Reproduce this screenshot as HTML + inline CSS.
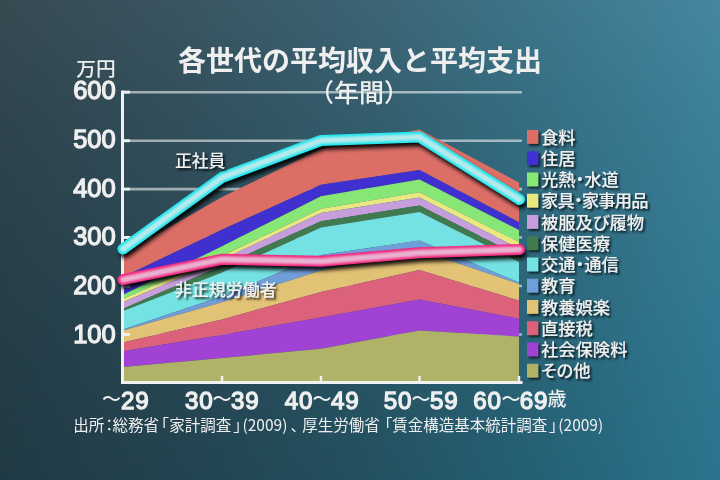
<!DOCTYPE html>
<html><head><meta charset="utf-8"><style>
html,body{margin:0;padding:0;}
body{width:720px;height:480px;overflow:hidden;position:relative;background:#23505f;}
svg{position:absolute;left:0;top:0;}
text{fill:#efefef;}
.cjk{font-family:"Liberation Sans","Noto Sans CJK JP",sans-serif;}
.jp{font-family:"Noto Sans CJK JP",sans-serif;}
.num{font-family:"Liberation Sans",Arial,sans-serif;font-weight:normal;stroke:#efefef;stroke-width:1.3px;}
</style></head><body>
<svg width="720" height="480" viewBox="0 0 720 480">
<defs>
<linearGradient id="gb" x1="0" y1="0" x2="720" y2="0" gradientUnits="userSpaceOnUse"><stop offset="0" stop-color="#203a44"/><stop offset=".25" stop-color="#234350"/><stop offset=".5" stop-color="#23505f"/><stop offset=".75" stop-color="#256175"/><stop offset="1" stop-color="#2a758e"/></linearGradient>
<linearGradient id="gt" x1="0" y1="0" x2="720" y2="0" gradientUnits="userSpaceOnUse"><stop offset="0" stop-color="#374a52"/><stop offset=".25" stop-color="#3a5561"/><stop offset=".5" stop-color="#3c6373"/><stop offset=".75" stop-color="#3e758a"/><stop offset="1" stop-color="#4687a0"/></linearGradient>
<linearGradient id="gm" x1="0" y1="0" x2="0" y2="480" gradientUnits="userSpaceOnUse"><stop offset="0" stop-color="#fff"/><stop offset=".25" stop-color="#fff" stop-opacity=".65"/><stop offset=".5" stop-color="#fff" stop-opacity=".4"/><stop offset=".75" stop-color="#fff" stop-opacity=".17"/><stop offset="1" stop-color="#fff" stop-opacity="0"/></linearGradient>
<mask id="mk" maskUnits="userSpaceOnUse" x="0" y="0" width="720" height="480"><rect width="720" height="480" fill="url(#gm)"/></mask>
<filter id="lsh" x="-10%" y="-30%" width="130%" height="180%">
 <feGaussianBlur in="SourceAlpha" stdDeviation="2"/>
 <feOffset dx="1.5" dy="4.2" result="b"/>
 <feFlood flood-color="#000" flood-opacity="0.95"/>
 <feComposite in2="b" operator="in"/>
</filter>
<filter id="soft" x="-10%" y="-30%" width="120%" height="160%"><feGaussianBlur stdDeviation="1.1"/></filter>
<filter id="ts" x="-10%" y="-30%" width="130%" height="170%">
 <feGaussianBlur in="SourceAlpha" stdDeviation="1"/>
 <feOffset dx="1.5" dy="1.5" result="b"/>
 <feFlood flood-color="#000" flood-opacity="0.8"/>
 <feComposite in2="b" operator="in" result="s"/>
 <feMerge><feMergeNode in="s"/><feMergeNode in="SourceGraphic"/></feMerge>
</filter>
<filter id="sq" x="-30%" y="-30%" width="180%" height="180%">
 <feGaussianBlur in="SourceAlpha" stdDeviation="1"/>
 <feOffset dx="2" dy="2" result="b"/>
 <feFlood flood-color="#000" flood-opacity="0.7"/>
 <feComposite in2="b" operator="in" result="s"/>
 <feMerge><feMergeNode in="s"/><feMergeNode in="SourceGraphic"/></feMerge>
</filter>
</defs>
<rect width="720" height="480" fill="url(#gb)"/>
<rect width="720" height="480" fill="url(#gt)" mask="url(#mk)"/>
<g stroke="#fff" stroke-opacity="0.55" stroke-width="2.6"><line x1="130" y1="92.2" x2="522" y2="92.2"/><line x1="130" y1="140.7" x2="522" y2="140.7"/><line x1="130" y1="189.1" x2="522" y2="189.1"/><line x1="130" y1="237.5" x2="522" y2="237.5"/><line x1="130" y1="286" x2="522" y2="286"/><line x1="130" y1="334.5" x2="522" y2="334.5"/></g>
<text x="309" y="101.5" class="cjk" style="font-weight:500;font-size:25px">（年間）</text>
<text x="177.9" y="71" class="cjk" style="font-weight:bold;font-size:28px">各世代の平均収入と平均支出</text>
<text x="76.3" y="75.5" class="cjk" style="font-weight:500;font-size:19.7px">万円</text>
<g><polygon points="123,253.8 222,197 321,149 419.5,129.5 519,182.5 519,222.3 419.5,170 321,184.75 222,229.75 123,277" fill="#dc6e66"/><polygon points="123,277 222,229.75 321,184.75 419.5,170 519,222.3 519,230 419.5,179.4 321,196.25 222,246.25 123,294.75" fill="#4030d0"/><polygon points="123,294.75 222,246.25 321,196.25 419.5,179.4 519,230 519,242 419.5,192.25 321,208.75 222,256 123,298.75" fill="#86e676"/><polygon points="123,298.75 222,256 321,208.75 419.5,192.25 519,242 519,248.5 419.5,197.5 321,213.1 222,259.5 123,302.25" fill="#e8e880"/><polygon points="123,302.25 222,259.5 321,213.1 419.5,197.5 519,248.5 519,255.8 419.5,205.6 321,221.25 222,265.7 123,308.75" fill="#c69edc"/><polygon points="123,308.75 222,265.7 321,221.25 419.5,205.6 519,255.8 519,262 419.5,211.9 321,227.5 222,272.5 123,311" fill="#427a50"/><polygon points="123,311 222,272.5 321,227.5 419.5,211.9 519,262 519,282.5 419.5,240.6 321,255 222,296.25 123,329.4" fill="#74e2e2"/><polygon points="123,329.4 222,296.25 321,255 419.5,240.6 519,282.5 519,284 419.5,250.3 321,270.5 222,302.25 123,330.6" fill="#709ed8"/><polygon points="123,330.6 222,302.25 321,270.5 419.5,250.3 519,284 519,300.6 419.5,270 321,291.9 222,319.4 123,342.5" fill="#e2c274"/><polygon points="123,342.5 222,319.4 321,291.9 419.5,270 519,300.6 519,318.75 419.5,299.4 321,317.5 222,335 123,351.25" fill="#dc627c"/><polygon points="123,351.25 222,335 321,317.5 419.5,299.4 519,318.75 519,336.6 419.5,330.6 321,348.75 222,358.1 123,366.9" fill="#a042d4"/><polygon points="123,366.9 222,358.1 321,348.75 419.5,330.6 519,336.6 519,382.5 419.5,382.5 321,382.5 222,382.5 123,382.5" fill="#b0b268"/></g>
<g stroke="#f0f0f0"><line x1="123" y1="92.2" x2="130" y2="92.2" stroke-width="3"/><line x1="123" y1="140.7" x2="130" y2="140.7" stroke-width="3"/><line x1="123" y1="189.1" x2="130" y2="189.1" stroke-width="3"/><line x1="123" y1="237.5" x2="130" y2="237.5" stroke-width="3"/><line x1="123" y1="286" x2="130" y2="286" stroke-width="3"/><line x1="123" y1="334.5" x2="130" y2="334.5" stroke-width="3"/><line x1="222" y1="376" x2="222" y2="381" stroke-width="2.5"/><line x1="321" y1="376" x2="321" y2="381" stroke-width="2.5"/><line x1="419.5" y1="376" x2="419.5" y2="381" stroke-width="2.5"/><line x1="519" y1="376" x2="519" y2="381" stroke-width="2.5"/></g>
<path d="M122.5 90.5 V382.5 H522.5" fill="none" stroke="#f0f0f0" stroke-width="3"/>
<g class="num" style="font-size:25.5px"><text x="73.2" y="98.75">600</text><text x="73.2" y="147.65">500</text><text x="73.2" y="196.55">400</text><text x="73.2" y="245.45">300</text><text x="73.2" y="294.35">200</text><text x="73.2" y="343.25">100</text></g>
<g stroke-linejoin="round" stroke-linecap="round" fill="none">
<polyline points="123,249 222,177.5 321,140.5 419.5,137 519.5,199.5" stroke="#000" stroke-width="10.5" filter="url(#lsh)"/>
<polyline points="123,249 222,177.5 321,140.5 419.5,137 519.5,199.5" stroke="#1ee4ec" stroke-width="11"/>
<polyline points="123,249 222,177.5 321,140.5 419.5,137 519.5,199.5" stroke="#b6eaec" stroke-width="6.2" filter="url(#soft)"/>
<polyline points="123,279.7 222,259.3 321,261.3 419.5,252.8 519.5,249.5" stroke="#000" stroke-width="10.5" filter="url(#lsh)"/>
<polyline points="123,279.7 222,259.3 321,261.3 419.5,252.8 519.5,249.5" stroke="#f0287e" stroke-width="11"/>
<polyline points="123,279.7 222,259.3 321,261.3 419.5,252.8 519.5,249.5" stroke="#eab2d2" stroke-width="6.2" filter="url(#soft)"/>
</g>
<g class="cjk" style="font-weight:500" filter="url(#ts)">
<text x="174.9" y="166.5" style="font-size:16.8px">正社員</text>
<text x="174.8" y="295.5" style="font-size:17px">非正規労働者</text>
</g>
<g filter="url(#sq)"><rect x="527" y="130" width="11.2" height="13.8" fill="#dc6e66"/><rect x="527" y="151.25" width="11.2" height="13.8" fill="#4030d0"/><rect x="527" y="172.5" width="11.2" height="13.8" fill="#86e676"/><rect x="527" y="193.75" width="11.2" height="13.8" fill="#e8e880"/><rect x="527" y="215" width="11.2" height="13.8" fill="#c69edc"/><rect x="527" y="236.25" width="11.2" height="13.8" fill="#427a50"/><rect x="527" y="257.5" width="11.2" height="13.8" fill="#74e2e2"/><rect x="527" y="278.75" width="11.2" height="13.8" fill="#709ed8"/><rect x="527" y="300" width="11.2" height="13.8" fill="#e2c274"/><rect x="527" y="321.25" width="11.2" height="13.8" fill="#dc627c"/><rect x="527" y="342.5" width="11.2" height="13.8" fill="#a042d4"/><rect x="527" y="363.75" width="11.2" height="13.8" fill="#b0b268"/></g>
<g class="cjk" style="font-weight:500;font-size:17.3px;font-feature-settings:'palt'" filter="url(#ts)"><text x="541" y="143.6">食料</text><text x="541" y="164.85">住居</text><text x="541" y="186.1">光熱・水道</text><text x="541" y="207.35" style="letter-spacing:-0.8px">家具・家事用品</text><text x="541" y="228.6">被服及び履物</text><text x="541" y="249.85">保健医療</text><text x="541" y="271.1">交通・通信</text><text x="541" y="292.35">教育</text><text x="541" y="313.6">教養娯楽</text><text x="541" y="334.85">直接税</text><text x="541" y="356.1">社会保険料</text><text x="541" y="377.35">その他</text></g>
<g class="num" style="font-size:24.2px;letter-spacing:0.8px"><text x="121" y="408.7">29</text><text x="184.9" y="408.7">30</text><text x="231" y="408.7">39</text><text x="284.7" y="408.7">40</text><text x="331" y="408.7">49</text><text x="383.7" y="408.7">50</text><text x="430" y="408.7">59</text><text x="473.2" y="408.7">60</text><text x="519.7" y="408.7">69</text></g>
<g class="jp" style="font-weight:500;font-size:19px"><text x="101.9" y="405.8">〜</text><text x="212.4" y="405.8">〜</text><text x="312.4" y="405.8">〜</text><text x="411.5" y="405.8">〜</text><text x="501.4" y="405.8">〜</text></g>
<text x="547.5" y="406" class="cjk" style="font-weight:500;font-size:19px">歳</text>
<text y="430.6" class="jp" style="font-weight:400;font-size:15.5px"><tspan x="73.2">出所</tspan><tspan x="101.6">：</tspan><tspan x="112.6">総務省</tspan><tspan x="153.6">「</tspan><tspan x="169.3">家計調査</tspan><tspan x="233.3">」</tspan><tspan x="242.5">(2009)</tspan><tspan x="290.4">、</tspan><tspan x="302.2">厚生労働省</tspan><tspan x="376.9">「</tspan><tspan x="392.2">賃金構造基本統計調査</tspan><tspan x="548.9">」</tspan><tspan x="558.3">(2009)</tspan></text>
</svg>
</body></html>
